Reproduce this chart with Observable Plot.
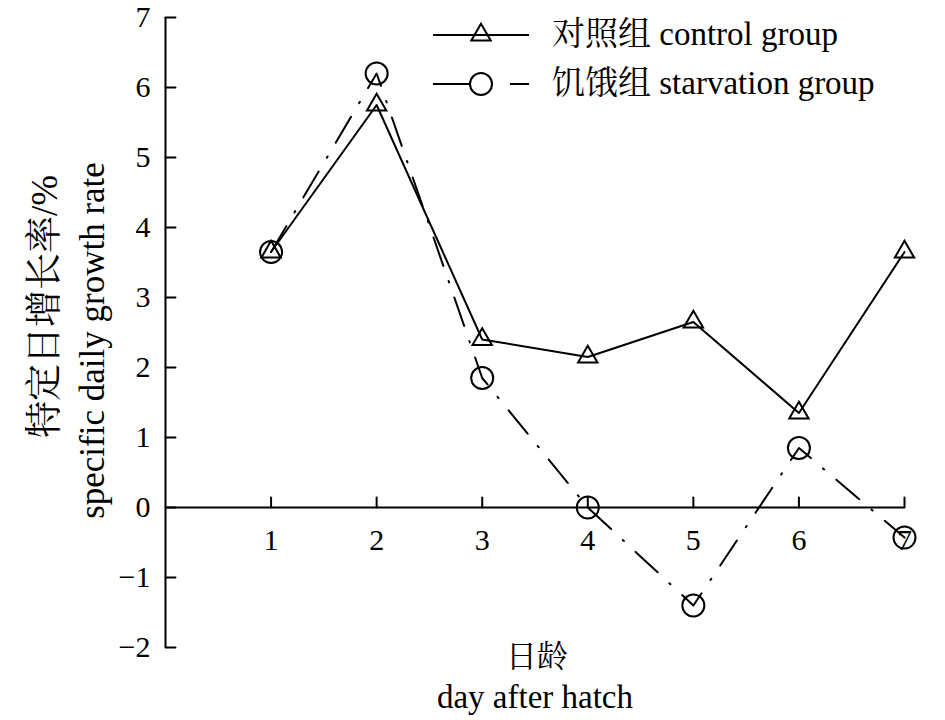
<!DOCTYPE html>
<html>
<head>
<meta charset="utf-8">
<script src="https://cdn.jsdelivr.net/npm/d3@7"></script>
<script src="https://cdn.jsdelivr.net/npm/@observablehq/plot@0.6"></script>
<style>
  body { margin: 0; background: #fff; }
  #wrap { position: relative; width: 945px; height: 720px; font-family: "Liberation Serif", "Times New Roman", "Noto Serif CJK SC", "Noto Sans CJK SC", serif; }
  #legend { position: absolute; left: 433px; top: 10px; font-size: 33px; color: #000; }
  .row { display: flex; align-items: center; height: 49px; }
  .row svg { display: block; }
  .row span { margin-left: 23px; white-space: nowrap; line-height: 1; }
</style>
</head>
<body>
<div id="wrap"></div>
<script>
const days = [1, 2, 3, 4, 5, 6, 7];
const controlValues = [3.65, 5.75, 2.4, 2.15, 2.65, 1.35, 3.65];
const starvationValues = [3.65, 6.2, 1.85, 0, -1.4, 0.85, -0.43];
const xTicks = [1, 2, 3, 4, 5, 6, 7];
const xTickLabels = ["1", "2", "3", "4", "5", "6", "7"];
const yTicks = [-2, -1, 0, 1, 2, 3, 4, 5, 6, 7];
const yTickLabels = ["\u22122", "\u22121", "0", "1", "2", "3", "4", "5", "6", "7"];
const seriesNames = ["对照组 control group", "饥饿组 starvation group"];
const xLabelLines = ["日龄", "day after hatch"];
const yLabelLines = ["特定日增长率/%", "specific daily growth rate"];

const control = days.map((d, i) => ({day: d, value: controlValues[i]}));
const starvation = days.map((d, i) => ({day: d, value: starvationValues[i]}));

const font = '"Liberation Serif", "Times New Roman", "Noto Serif CJK SC", "Noto Sans CJK SC", serif';
const tickShape = {draw(ctx, l) { ctx.moveTo(0, 0); ctx.lineTo(0, -l); }};

const chart = Plot.plot({
  width: 945,
  height: 720,
  marginLeft: 165,
  marginRight: 41,
  marginTop: 17,
  marginBottom: 73,
  style: {fontFamily: font, fontSize: "30px", background: "#fff", color: "#000", overflow: "visible"},
  x: {domain: [0, 7], axis: null},
  y: {domain: [-2, 7], axis: null},
  marks: [
    // axes lines
    Plot.ruleX([0], {y1: -2, y2: 7, stroke: "#000", strokeWidth: 2}),
    Plot.ruleY([0], {x1: 0, x2: 7, stroke: "#000", strokeWidth: 2}),
    // x ticks (pointing up) and labels
    Plot.vector(xTicks, {x: d => d, y: 0, length: 10, rotate: 0, anchor: "start", shape: tickShape, stroke: "#000", strokeWidth: 2}),
    Plot.text(xTicks, {x: d => d, y: 0, text: (d, i) => xTickLabels[i], dy: 33, lineAnchor: "middle", fontSize: 30}),
    // y ticks (pointing right) and labels
    Plot.vector(yTicks, {x: 0, y: d => d, length: 10, rotate: 90, anchor: "start", shape: tickShape, stroke: "#000", strokeWidth: 2}),
    Plot.text(yTicks, {x: 0, y: d => d, text: (d, i) => yTickLabels[i], dx: -15, textAnchor: "end", lineAnchor: "middle", fontSize: 30}),
    // series
    Plot.line(control, {x: "day", y: "value", stroke: "#000", strokeWidth: 2}),
    Plot.line(starvation, {x: "day", y: "value", stroke: "#000", strokeWidth: 2, strokeDasharray: "30,16,1.5,16"}),
    Plot.dot(control, {x: "day", y: "value", symbol: "triangle", r: 7.2, stroke: "#000", strokeWidth: 2, fill: "none"}),
    Plot.dot(starvation, {x: "day", y: "value", symbol: "circle", r: 11, stroke: "#000", strokeWidth: 2, fill: "none"}),
    // axis titles
    Plot.text([xLabelLines[0]], {frameAnchor: "bottom", text: d => d, dy: 10, dx: 2, lineAnchor: "middle", fontSize: 31}),
    Plot.text([xLabelLines[1]], {frameAnchor: "bottom", text: d => d, dy: 50, lineAnchor: "middle", fontSize: 33}),
    Plot.text([yLabelLines[0]], {frameAnchor: "left", text: d => d, dx: -120, dy: -26, rotate: -90, textAnchor: "middle", lineAnchor: "middle", fontSize: 37}),
    Plot.text([yLabelLines[1]], {frameAnchor: "left", text: d => d, dx: -73, dy: 8, rotate: -90, textAnchor: "middle", lineAnchor: "middle", fontSize: 35})
  ]
});

const wrap = document.getElementById("wrap");
wrap.appendChild(chart);

// Legend overlay
const legend = document.createElement("div");
legend.id = "legend";
const sym = (kind) => {
  if (kind === 0) {
    return `<svg width="96" height="30" viewBox="0 0 96 30"><line x1="0" y1="15" x2="96" y2="15" stroke="#000" stroke-width="2"/><path d="${d3.symbol(d3.symbolTriangle, Math.PI * 7.2 * 7.2)()}" transform="translate(48,15)" fill="none" stroke="#000" stroke-width="2"/></svg>`;
  }
  return `<svg width="96" height="30" viewBox="0 0 96 30"><line x1="0" y1="15" x2="37" y2="15" stroke="#000" stroke-width="2"/><circle cx="48" cy="15" r="11" fill="none" stroke="#000" stroke-width="2"/><line x1="77" y1="15" x2="96" y2="15" stroke="#000" stroke-width="2"/></svg>`;
};
legend.innerHTML = seriesNames.map((n, i) => `<div class="row">${sym(i)}<span>${n}</span></div>`).join("");
wrap.appendChild(legend);
</script>
</body>
</html>
